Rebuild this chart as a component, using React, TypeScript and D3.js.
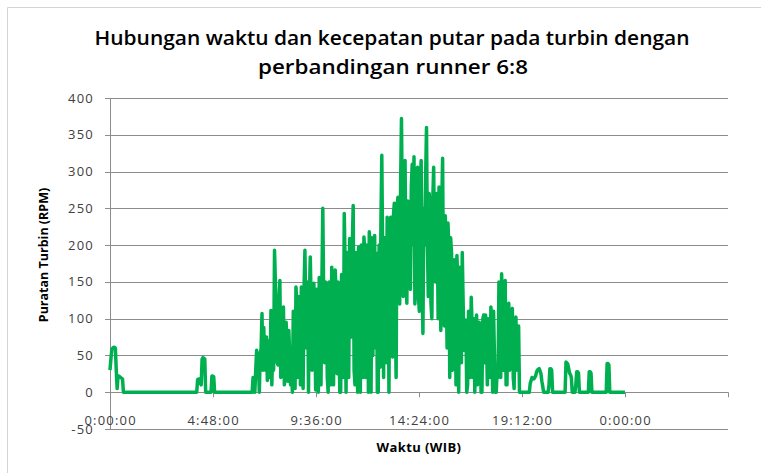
import React from 'react';
import * as d3 from 'd3';

// turbine speed (RPM), one reading every 2.5 minutes from 0:00 to 0:00 next day
const stepMinutes = 2.5;
const rpmValues = [
  30, 45, 58, 60, 61, 61, 60, 30, 5, 22,
  22, 21, 20, 19, 18, 0, 0, 0, 0, 0,
  0, 0, 0, 0, 0, 0, 0, 0, 0, 0,
  0, 0, 0, 0, 0, 0, 0, 0, 0, 0,
  0, 0, 0, 0, 0, 0, 0, 0, 0, 0,
  0, 0, 0, 0, 0, 0, 0, 0, 0, 0,
  0, 0, 0, 0, 0, 0, 0, 0, 0, 0,
  0, 0, 0, 0, 0, 0, 0, 0, 0, 0,
  0, 0, 0, 0, 0, 0, 0, 0, 0, 0,
  0, 0, 0, 0, 0, 0, 0, 0, 17, 18,
  18, 12, 10, 45, 47, 46, 45, 0, 0, 0,
  0, 0, 0, 0, 22, 22, 21, 0, 0, 0,
  0, 0, 0, 0, 0, 0, 0, 0, 0, 0,
  0, 0, 0, 0, 0, 0, 0, 0, 0, 0,
  0, 0, 0, 0, 0, 0, 0, 0, 0, 0,
  0, 0, 0, 0, 0, 0, 0, 0, 0, 0,
  20, 10, 0, 30, 57, 50, 40, 0, 50, 60,
  107, 30, 88, 40, 30, 75, 16, 60, 70, 20,
  111, 10, 60, 30, 193, 150, 120, 40, 37, 110,
  152, 20, 45, 100, 116, 10, 20, 95, 60, 15,
  84, 50, 10, 30, 0, 110, 60, 5, 143, 120,
  20, 130, 100, 10, 143, 120, 5, 140, 193, 110,
  60, 150, 0, 130, 184, 120, 30, 130, 148, 100,
  3, 140, 90, 0, 156, 110, 10, 150, 250, 130,
  40, 150, 139, 20, 0, 150, 80, 10, 170, 140,
  10, 160, 166, 120, 25, 150, 90, 0, 0, 160,
  120, 20, 243, 170, 0, 190, 150, 20, 209, 180,
  75, 200, 254, 30, 10, 190, 120, 0, 197, 170,
  0, 200, 150, 20, 211, 190, 20, 200, 170, 0,
  218, 180, 0, 210, 50, 190, 213, 60, 189, 0,
  0, 200, 34, 230, 322, 180, 20, 210, 180, 40,
  238, 200, 0, 220, 238, 60, 48, 240, 257, 120,
  20, 250, 265, 200, 120, 280, 372, 230, 130, 290,
  315, 180, 121, 260, 257, 150, 140, 280, 310, 200,
  320, 120, 150, 290, 306, 130, 110, 280, 315, 150,
  80, 250, 200, 290, 360, 200, 130, 270, 248, 120,
  100, 260, 306, 180, 150, 270, 220, 100, 279, 220,
  84, 250, 318, 140, 90, 240, 160, 60, 230, 200,
  20, 210, 189, 30, 40, 180, 140, 10, 186, 150,
  0, 170, 150, 40, 190, 120, 57, 90, 98, 0,
  10, 110, 80, 20, 129, 90, 20, 100, 0, 80,
  105, 10, 30, 95, 90, 0, 0, 100, 105, 40,
  105, 90, 10, 100, 80, 20, 116, 90, 0, 110,
  48, 0, 0, 30, 20, 150, 130, 20, 161, 120,
  30, 140, 152, 10, 10, 110, 121, 30, 40, 100,
  114, 20, 5, 100, 102, 30, 60, 90, 0, 0,
  0, 0, 0, 0, 0, 0, 0, 0, 0, 0,
  12, 16, 20, 19, 18, 20, 22, 27, 30, 31,
  32, 29, 25, 15, 8, 0, 0, 0, 0, 0,
  0, 10, 32, 32, 30, 0, 0, 0, 0, 0,
  0, 0, 0, 0, 0, 0, 0, 0, 0, 0,
  41, 40, 38, 32, 26, 24, 20, 0, 0, 0,
  0, 10, 28, 28, 26, 0, 0, 0, 0, 0,
  0, 0, 0, 0, 0, 0, 28, 28, 26, 0,
  0, 0, 0, 0, 0, 0, 0, 0, 0, 0,
  0, 0, 0, 0, 0, 0, 39, 39, 37, 0,
  0, 0, 0, 0, 0, 0, 0, 0, 0, 0,
  0, 0, 0, 0, 0, 0, 0,
];

const xTickHours = [0, 4.8, 9.6, 14.4, 19.2, 24, 28.8];
const xTickLabels = ['0:00:00', '4:48:00', '9:36:00', '14:24:00', '19:12:00', '0:00:00', ''];
const yTicks = [-50, 0, 50, 100, 150, 200, 250, 300, 350, 400];

const titleLines = ['Hubungan waktu dan kecepatan putar pada turbin dengan', 'perbandingan runner 6:8'];

const W = 761;
const H = 473;
const font = '"Open Sans", "DejaVu Sans", sans-serif';

export default function App() {
  const x = d3.scaleLinear().domain([0, 28.8]).range([110, 728]);
  const y = d3.scaleLinear().domain([-50, 400]).range([429, 98]);

  const points = rpmValues.map((v, i) => ({ h: (i * stepMinutes) / 60, v }));
  const line = d3
    .line<{ h: number; v: number }>()
    .x(d => x(d.h))
    .y(d => y(d.v));

  return (
    <svg width={W} height={H} style={{ position: 'absolute', left: 0, top: 0, background: '#fff' }}>
      {/* chart frame */}
      <line x1={7.5} x2={W} y1={7.5} y2={7.5} stroke="#d4d4d4" />
      <line x1={7.5} x2={7.5} y1={7.5} y2={H} stroke="#d4d4d4" />

      {/* title */}
      <text x={392} y={45} textAnchor="middle" fontFamily={font} fontSize={19} fontWeight={600} fill="#000"
        textLength={595} lengthAdjust="spacingAndGlyphs">
        {titleLines[0]}
      </text>
      <text x={393} y={74} textAnchor="middle" fontFamily={font} fontSize={19} fontWeight={600} fill="#000"
        textLength={270} lengthAdjust="spacingAndGlyphs">
        {titleLines[1]}
      </text>

      {/* gridlines */}
      {yTicks.map(t => (
        <line key={t} x1={x(0)} x2={x(28.8)} y1={Math.round(y(t)) + 0.5} y2={Math.round(y(t)) + 0.5}
          stroke="#8c8c8c" strokeWidth={1} />
      ))}

      {/* y axis */}
      <line x1={x(0) + 0.5} x2={x(0) + 0.5} y1={y(400)} y2={y(-50)} stroke="#8c8c8c" />
      {yTicks.map(t => (
        <g key={t}>
          <line x1={x(0) - 5} x2={x(0)} y1={Math.round(y(t)) + 0.5} y2={Math.round(y(t)) + 0.5} stroke="#8c8c8c" />
          <text x={94} y={y(t) + 4.5} textAnchor="end" fontFamily={font} fontSize={13} fill="#404040"
            letterSpacing={1.2}>
            {t}
          </text>
        </g>
      ))}

      {/* x ticks on the zero line */}
      {xTickHours.map((h, i) => (
        <g key={i}>
          <line x1={Math.round(x(h)) + 0.5} x2={Math.round(x(h)) + 0.5} y1={y(0)} y2={y(0) + 5} stroke="#8c8c8c" />
          <text x={x(h) + 0.6} y={425} textAnchor="middle" fontFamily={font} fontSize={13} fill="#404040"
            letterSpacing={1.2}>
            {xTickLabels[i]}
          </text>
        </g>
      ))}

      {/* data */}
      <path d={line(points) ?? ''} fill="none" stroke="#00b050" strokeWidth={3.5} strokeLinejoin="round" />

      {/* axis titles */}
      <text x={419} y={452} textAnchor="middle" fontFamily={font} fontSize={13} fontWeight={700} fill="#000"
        letterSpacing={0.4}>
        Waktu (WIB)
      </text>
      <text transform="translate(48,255) rotate(-90)" textAnchor="middle" fontFamily={font} fontSize={12.5}
        fontWeight={700} fill="#000">
        Puratan Turbin (RPM)
      </text>
    </svg>
  );
}
